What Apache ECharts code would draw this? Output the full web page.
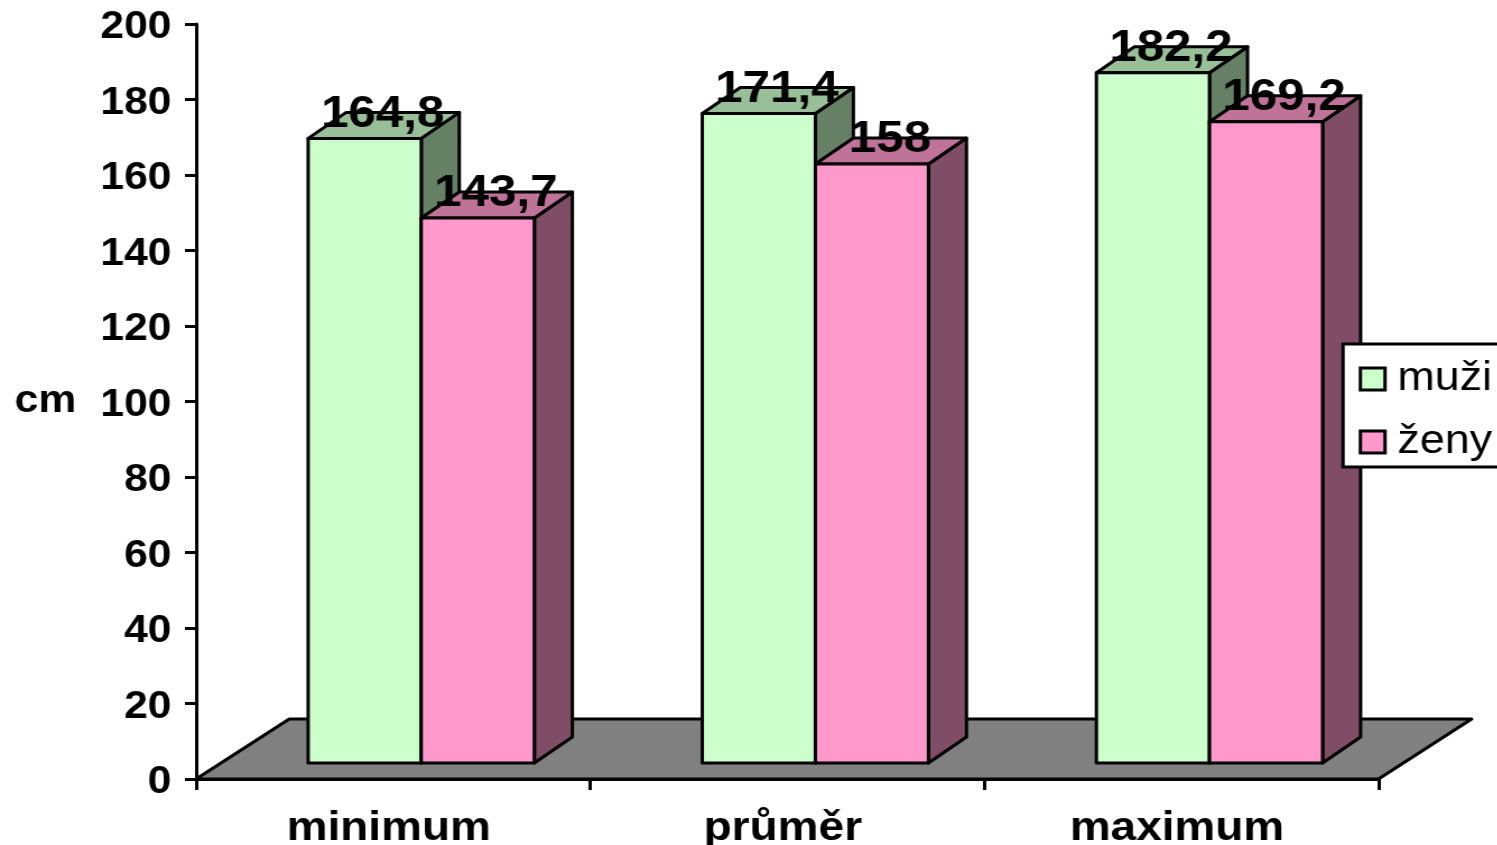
<!DOCTYPE html>
<html>
<head>
<meta charset="utf-8">
<style>
html,body{margin:0;padding:0;background:#fff;overflow:hidden;width:1497px;height:845px}
#main{height:845px;transform-origin:0 0}
</style>
<script src="https://cdn.jsdelivr.net/npm/echarts@6/dist/echarts.min.js"></script>
</head>
<body>
<div id="main"></div>
<script>
const categories = ['minimum', 'průměr', 'maximum'];
const muzi = [164.8, 171.4, 182.2];
const zeny = [143.7, 158, 169.2];
const seriesNames = ['muži', 'ženy'];

const FONT = '"Liberation Sans", Arial, sans-serif';
const S = 1.12;            // the reference is stretched horizontally
const W = 1497 / S;
const BAR_W = 113 / S;
const JOINT = 28 / S;
const DX = 38 / S, DY = 26;
const BASE_LIFT = 16, TOP_LIFT = 18.5;
const FLOOR_DX = 93 / S, FLOOR_DY = 60;
const LINE = 3;

const box = document.getElementById('main');
box.style.width = W + 'px';
box.style.transform = 'scaleX(' + S + ')';

function fmt(v) { return String(v).replace('.', ','); }

function barRenderer(front, top, side, sideIndex) {
  return function (params, api) {
    const idx = api.value(0), val = api.value(1);
    const c = api.coord([idx, val]);
    const z = api.coord([idx, 0]);
    const x0 = c[0] + JOINT + (sideIndex === 0 ? -BAR_W : 0);
    const x1 = x0 + BAR_W;
    const yTop = c[1] - TOP_LIFT;
    const yBase = z[1] - BASE_LIFT;
    const st = { stroke: '#000', lineWidth: LINE, lineJoin: 'round' };
    const poly = (pts, fill) => ({ type: 'polygon', shape: { points: pts }, style: Object.assign({ fill }, st) });
    return {
      type: 'group',
      children: [
        poly([[x1, yTop], [x1 + DX, yTop - DY], [x1 + DX, yBase - DY], [x1, yBase]], side),
        poly([[x0, yTop], [x0 + DX, yTop - DY], [x1 + DX, yTop - DY], [x1, yTop]], top),
        poly([[x0, yTop], [x1, yTop], [x1, yBase], [x0, yBase]], front),
        {
          type: 'text',
          z2: 50,
          style: {
            x: (x0 + x1) / 2 + 18 / S,
            y: yTop - 24,
            text: fmt(val),
            fill: '#000',
            font: 'bold 44px ' + FONT,
            textAlign: 'center',
            textVerticalAlign: 'middle'
          }
        }
      ]
    };
  };
}

function floorRenderer(params, api) {
  const r = params.coordSys;
  const y0 = r.y + r.height, x0 = r.x, x1 = r.x + r.width;
  return {
    type: 'polygon',
    shape: { points: [[x0, y0], [x0 + FLOOR_DX, y0 - FLOOR_DY], [x1 + FLOOR_DX, y0 - FLOOR_DY], [x1, y0]] },
    style: { fill: '#808080', stroke: '#000', lineWidth: LINE, lineJoin: 'round' }
  };
}

const chart = echarts.init(box, null, { renderer: 'canvas', width: W, height: 845 });
chart.setOption({
  animation: false,
  backgroundColor: '#fff',
  textStyle: { fontFamily: FONT },
  grid: { left: 196 / S, right: W - 1377.5 / S, top: 24, bottom: 66, containLabel: false, outerBoundsMode: 'none' },
  legend: {
    data: seriesNames,
    orient: 'vertical',
    left: 1342 / S,
    top: 344,
    padding: [15, 13, 5, 14],
    itemGap: 23,
    itemWidth: 22,
    itemHeight: 22,
    icon: 'rect',
    backgroundColor: '#fff',
    borderColor: '#000',
    borderWidth: 3,
    itemStyle: { borderColor: '#000', borderWidth: 3 },
    textStyle: { fontFamily: FONT, fontSize: 40, color: '#000', padding: [0, 0, 0, 6] },
    z: 20
  },
  xAxis: {
    type: 'category',
    data: categories,
    z: 6,
    axisLine: { lineStyle: { color: '#000', width: LINE } },
    axisTick: { show: true, length: 11, lineStyle: { color: '#000', width: LINE } },
    axisLabel: { color: '#000', fontFamily: FONT, fontWeight: 'bold', fontSize: 41, margin: 23, padding: [6, 8, 0, 0] },
    splitLine: { show: false }
  },
  yAxis: {
    type: 'value',
    min: 0,
    max: 200,
    interval: 20,
    z: 6,
    name: 'cm',
    nameLocation: 'middle',
    nameRotate: 0,
    nameGap: 107,
    nameTextStyle: { color: '#000', fontFamily: FONT, fontWeight: 'bold', fontSize: 38 },
    axisLine: { show: true, lineStyle: { color: '#000', width: LINE } },
    axisTick: { show: true, length: 10, lineStyle: { color: '#000', width: LINE } },
    axisLabel: {
      margin: 22,
      padding: [8, 0, 0, 0],
      formatter: '{t|{value}}',
      rich: { t: { color: '#000', fontFamily: FONT, fontWeight: 'bold', fontSize: 38 } }
    },
    splitLine: { show: false }
  },
  series: [
    { type: 'custom', name: 'floor', silent: true, clip: false, z: 1, renderItem: floorRenderer, data: [[0, 0]], encode: { x: 0, y: 1 } },
    {
      type: 'custom', name: seriesNames[0], clip: false, z: 2,
      itemStyle: { color: '#CCFFCC' },
      renderItem: barRenderer('#CCFFCC', '#99BF99', '#668066', 0),
      data: muzi.map((v, i) => [i, v]), encode: { x: 0, y: 1 }
    },
    {
      type: 'custom', name: seriesNames[1], clip: false, z: 3,
      itemStyle: { color: '#FF99CC' },
      renderItem: barRenderer('#FF99CC', '#BF7399', '#804D66', 1),
      data: zeny.map((v, i) => [i, v]), encode: { x: 0, y: 1 }
    }
  ]
});
</script>
</body>
</html>
